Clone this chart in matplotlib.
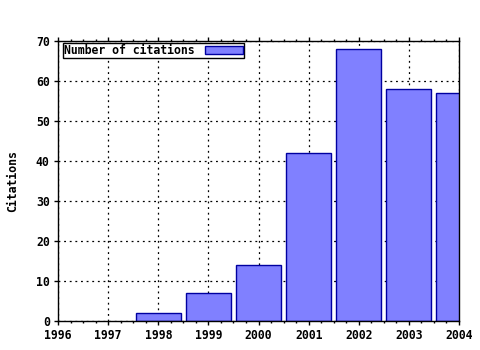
import matplotlib
matplotlib.use("Agg")
import matplotlib.pyplot as plt
from matplotlib.ticker import MultipleLocator

years = [1998, 1999, 2000, 2001, 2002, 2003, 2004]
citations = [2, 7, 14, 42, 68, 58, 57]
xticks = [1996, 1997, 1998, 1999, 2000, 2001, 2002, 2003, 2004]
yticks = [0, 10, 20, 30, 40, 50, 60, 70]

font = {'family': 'DejaVu Sans Mono', 'weight': 'bold', 'size': 8.3}

fig = plt.figure(figsize=(4.8, 3.5), dpi=100)
ax = fig.add_axes([58/480, 1-321/350, (459-58)/480, (321-41)/350])

ax.bar(years, citations, width=0.9, color='#8080ff', edgecolor='#0000a0', linewidth=1, zorder=2, label='Number of citations')
ax.set_xlim(1996, 2004)
ax.set_ylim(0, 70)
ax.set_xticks(xticks)
ax.set_yticks(yticks)
ax.set_xticklabels([str(v) for v in xticks], fontdict=font)
ax.set_yticklabels([str(v) for v in yticks], fontdict=font)
ax.xaxis.set_minor_locator(MultipleLocator(0.25))
ax.tick_params(which='both', direction='out', top=True, right=False, color='black')
ax.tick_params(which='major', length=3, width=1, pad=3)
ax.tick_params(which='minor', length=1.5, width=1)
ax.grid(True, which='major', linestyle=(0, (1.5, 3)), color='black', linewidth=0.9, zorder=0)
ax.set_axisbelow(True)
for s in ax.spines.values():
    s.set_linewidth(1)
    s.set_color('black')
ax.set_ylabel('Citations', fontdict=font, labelpad=12)

leg = ax.legend(loc='upper left', bbox_to_anchor=(5/401, 1-2/280),
                prop={'family': 'DejaVu Sans Mono', 'weight': 'bold', 'size': 8.3},
                frameon=True, fancybox=False, edgecolor='black', framealpha=1,
                borderpad=0.1, borderaxespad=0, handlelength=3.3, handleheight=0.6,
                markerfirst=False, handletextpad=0.9)
leg.get_frame().set_linewidth(1)

fig.savefig('out.png', dpi=100)
